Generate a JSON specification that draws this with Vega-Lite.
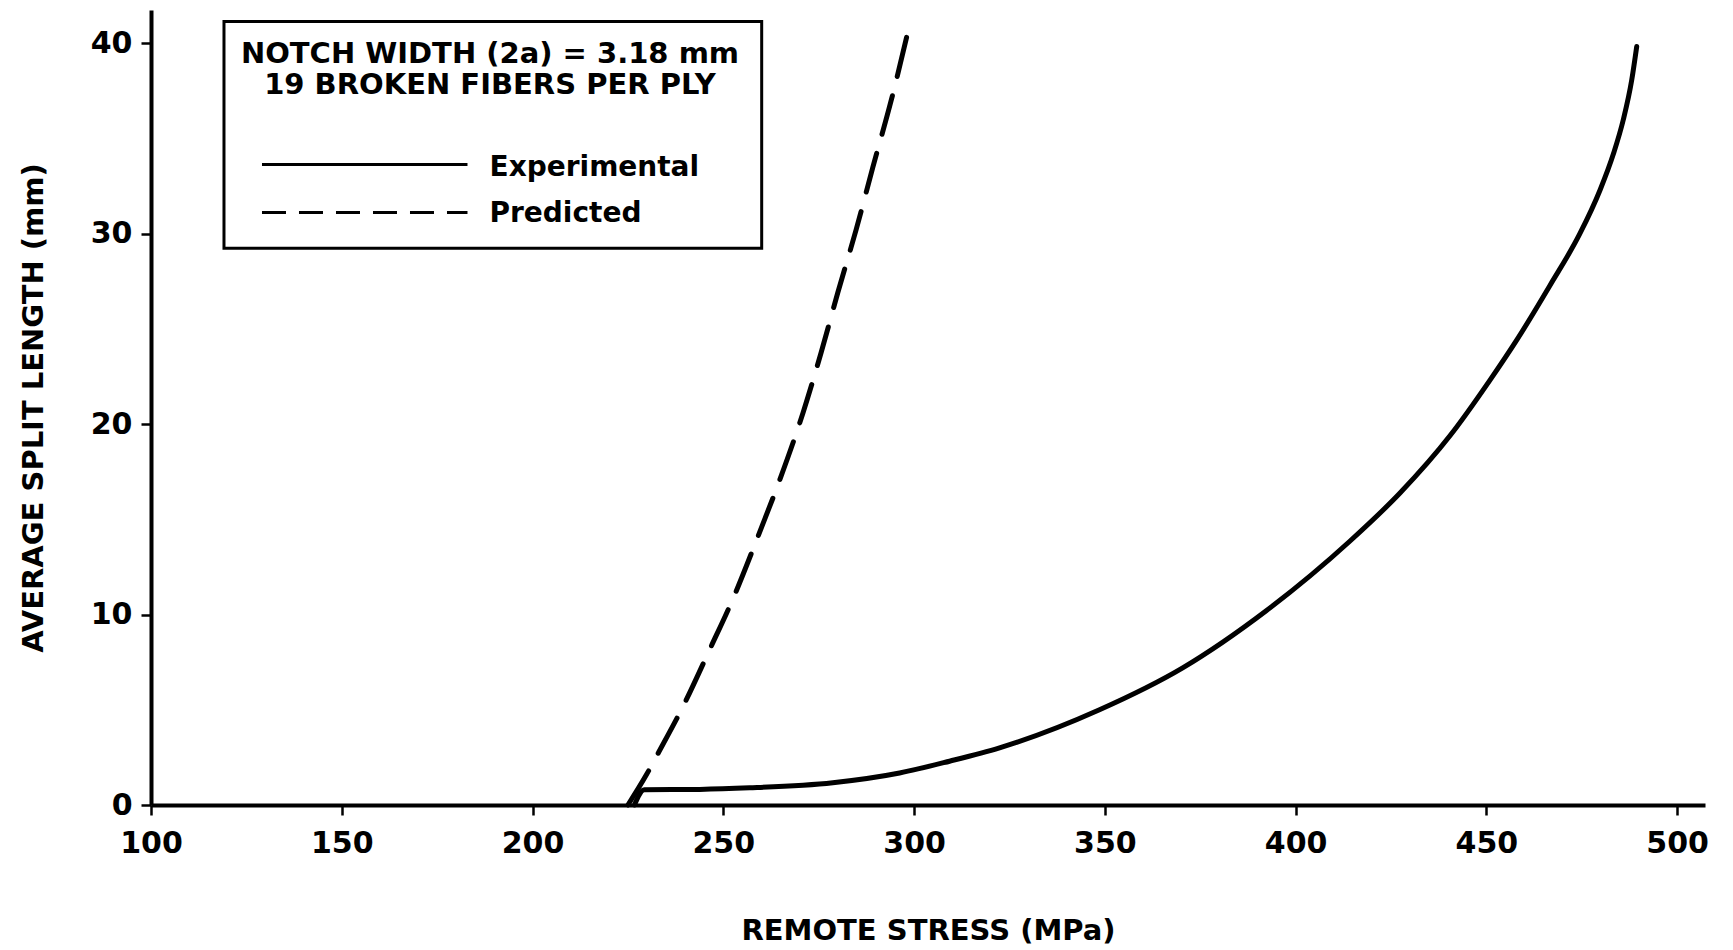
{
  "$schema": "https://vega.github.io/schema/vega-lite/v6.json",
  "width": 1554,
  "height": 795,
  "autosize": {"type": "none"},
  "padding": {"left": 151, "top": 10, "right": 28, "bottom": 145},
  "background": "white",
  "config": {
    "view": {"stroke": null},
    "font": "DejaVu Sans",
    "axis": {
      "grid": false,
      "domainColor": "black",
      "domainWidth": 4,
      "tickColor": "black",
      "tickWidth": 2.5,
      "tickSize": 10,
      "labelColor": "black",
      "labelFont": "DejaVu Sans",
      "labelFontWeight": "bold",
      "labelFontSize": 30,
      "labelFlush": false,
      "labelOverlap": false,
      "titleColor": "black",
      "titleFont": "DejaVu Sans",
      "titleFontWeight": "bold",
      "titleFontSize": 29
    },
    "axisX": {"labelPadding": 13, "titlePadding": 58},
    "axisY": {"labelPadding": 9, "titlePadding": 42}
  },
  "datasets": {
    "experimental": [
      {"stress": 226.7, "length": 0},
      {"stress": 229.3, "length": 0.8},
      {"stress": 243.8, "length": 0.82},
      {"stress": 256.9, "length": 0.9},
      {"stress": 278.7, "length": 1.17},
      {"stress": 296.2, "length": 1.68},
      {"stress": 309.3, "length": 2.3},
      {"stress": 322.4, "length": 3.0},
      {"stress": 348.6, "length": 5.0},
      {"stress": 370.4, "length": 7.2},
      {"stress": 392.3, "length": 10.2},
      {"stress": 414.2, "length": 13.85},
      {"stress": 427.3, "length": 16.37},
      {"stress": 440.5, "length": 19.4},
      {"stress": 450.9, "length": 22.3},
      {"stress": 457.9, "length": 24.4},
      {"stress": 466.7, "length": 27.3},
      {"stress": 474.5, "length": 30.0},
      {"stress": 479.8, "length": 32.3},
      {"stress": 483.3, "length": 34.2},
      {"stress": 485.9, "length": 36.0},
      {"stress": 488.1, "length": 38.08},
      {"stress": 489.4, "length": 39.83}
    ],
    "predicted": [
      {"stress": 225.0, "length": 0},
      {"stress": 229.8, "length": 1.57},
      {"stress": 232.9, "length": 2.71},
      {"stress": 239.9, "length": 5.36},
      {"stress": 246.4, "length": 8.15},
      {"stress": 253.0, "length": 11.05},
      {"stress": 259.1, "length": 14.11},
      {"stress": 264.8, "length": 17.08},
      {"stress": 270.9, "length": 20.6},
      {"stress": 275.7, "length": 23.8},
      {"stress": 280.0, "length": 26.9},
      {"stress": 284.8, "length": 30.2},
      {"stress": 289.2, "length": 33.5},
      {"stress": 294.0, "length": 37.0},
      {"stress": 298.8, "length": 40.96}
    ],
    "box": [
      {"x1": 119.13, "x2": 260.06, "y1": 41.14, "y2": 29.24}
    ],
    "heading": [
      {"tx": 188.85, "ty": 38.96, "label": "NOTCH WIDTH (2a) = 3.18 mm"},
      {"tx": 188.85, "ty": 37.34, "label": "19 BROKEN FIBERS PER PLY"}
    ],
    "keys": [
      {"tx": 188.72, "ty": 33.04, "label": "Experimental"},
      {"tx": 188.72, "ty": 30.64, "label": "Predicted"}
    ],
    "solidkey": [
      {"xa": 129.09, "xb": 182.95, "yk": 33.64}
    ],
    "dashkey": [
      {"xa": 129.09, "xb": 182.95, "yk": 31.11}
    ]
  },
  "layer": [
    {
      "data": {"name": "box"},
      "mark": {"type": "rect", "fill": "white", "stroke": "black", "strokeWidth": 3},
      "encoding": {
        "x": {"field": "x1", "type": "quantitative", "title": "REMOTE STRESS (MPa)",
              "scale": {"domain": [100, 507.3], "nice": false, "zero": false},
              "axis": {"values": [100, 150, 200, 250, 300, 350, 400, 450, 500]}},
        "x2": {"field": "x2"},
        "y": {"field": "y1", "type": "quantitative", "title": "AVERAGE SPLIT LENGTH (mm)",
              "scale": {"domain": [0, 41.75], "nice": false, "zero": false},
              "axis": {"values": [0, 10, 20, 30, 40]}},
        "y2": {"field": "y2"}
      }
    },
    {
      "data": {"name": "heading"},
      "mark": {"type": "text", "align": "center", "baseline": "alphabetic", "font": "DejaVu Sans", "fontWeight": "bold", "fontSize": 29, "color": "black"},
      "encoding": {
        "x": {"field": "tx", "type": "quantitative", "title": "REMOTE STRESS (MPa)"},
        "y": {"field": "ty", "type": "quantitative", "title": "AVERAGE SPLIT LENGTH (mm)"},
        "text": {"field": "label"}
      }
    },
    {
      "data": {"name": "keys"},
      "mark": {"type": "text", "align": "left", "baseline": "alphabetic", "font": "DejaVu Sans", "fontWeight": "bold", "fontSize": 28, "color": "black"},
      "encoding": {
        "x": {"field": "tx", "type": "quantitative", "title": "REMOTE STRESS (MPa)"},
        "y": {"field": "ty", "type": "quantitative", "title": "AVERAGE SPLIT LENGTH (mm)"},
        "text": {"field": "label"}
      }
    },
    {
      "data": {"name": "solidkey"},
      "mark": {"type": "rule", "color": "black", "strokeWidth": 3},
      "encoding": {
        "x": {"field": "xa", "type": "quantitative", "title": "REMOTE STRESS (MPa)"},
        "x2": {"field": "xb"},
        "y": {"field": "yk", "type": "quantitative", "title": "AVERAGE SPLIT LENGTH (mm)"}
      }
    },
    {
      "data": {"name": "dashkey"},
      "mark": {"type": "rule", "color": "black", "strokeWidth": 3, "strokeDash": [24, 13]},
      "encoding": {
        "x": {"field": "xa", "type": "quantitative", "title": "REMOTE STRESS (MPa)"},
        "x2": {"field": "xb"},
        "y": {"field": "yk", "type": "quantitative", "title": "AVERAGE SPLIT LENGTH (mm)"}
      }
    },
    {
      "data": {"name": "experimental"},
      "mark": {"type": "line", "color": "black", "strokeWidth": 5, "interpolate": "monotone", "strokeCap": "round"},
      "encoding": {
        "x": {"field": "stress", "type": "quantitative", "title": "REMOTE STRESS (MPa)"},
        "y": {"field": "length", "type": "quantitative", "title": "AVERAGE SPLIT LENGTH (mm)"}
      }
    },
    {
      "data": {"name": "predicted"},
      "mark": {"type": "line", "color": "black", "strokeWidth": 5, "interpolate": "monotone", "strokeCap": "round", "strokeDash": [40, 20]},
      "encoding": {
        "x": {"field": "stress", "type": "quantitative", "title": "REMOTE STRESS (MPa)"},
        "y": {"field": "length", "type": "quantitative", "title": "AVERAGE SPLIT LENGTH (mm)"}
      }
    }
  ]
}
